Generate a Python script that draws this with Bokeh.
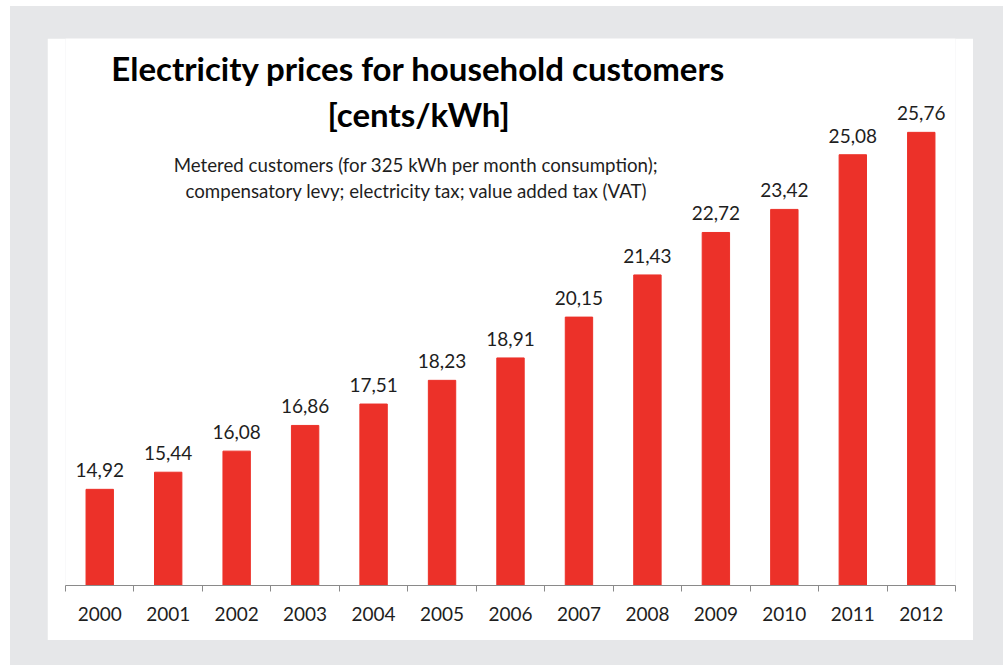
from bokeh.plotting import figure
from bokeh.layouts import column
from bokeh.models import (FactorRange, Range1d, LinearAxis, FixedTicker, ColumnDataSource,
                          LabelSet, Label)
from bokeh.core.properties import value
from bokeh.embed import file_html
from bokeh.resources import INLINE

# ---- data ----
years = ["2000", "2001", "2002", "2003", "2004", "2005", "2006",
         "2007", "2008", "2009", "2010", "2011", "2012"]
prices = [14.92, 15.44, 16.08, 16.86, 17.51, 18.23, 18.91,
          20.15, 21.43, 22.72, 23.42, 25.08, 25.76]
price_labels = [f"{v:.2f}".replace(".", ",") for v in prices]
title_lines = ["Electricity prices for household customers", "[cents/kWh]"]
subtitle_lines = ["Metered customers (for 325 kWh per month consumption);",
                  "compensatory levy; electricity tax; value added tax (VAT)"]

# ---- styles ----
BG = "#e6e7e9"
RED = "#ec3129"
TXT = "#1e1e1e"
AX = "#8a8a8a"
FONT = "Lato"

W, H = 926, 602

p = figure(width=W, height=H, x_range=FactorRange(*years), y_range=Range1d(12, 28.61),
           output_backend="svg", toolbar_location=None,
           x_axis_location=None, y_axis_location=None,
           min_border_left=18, min_border_right=18,
           min_border_top=0, min_border_bottom=55)
p.border_fill_color = "white"
p.background_fill_color = "white"
p.outline_line_color = None
p.outline_line_alpha = 0
p.xgrid.visible = False
p.ygrid.visible = False
p.margin = (32, 30, 25, 37)

src = ColumnDataSource(dict(year=years, price=prices, label=price_labels))
p.vbar(x="year", top="price", bottom=12, width=0.4, source=src,
       fill_color=RED, line_color=RED)

# x axis on the categorical range: tick marks between categories, labels at centers
n = len(years)
xaxis = LinearAxis(ticker=FixedTicker(ticks=[i + 0.5 for i in range(n)],
                                      minor_ticks=list(range(n + 1))),
                   major_label_overrides={i + 0.5: y for i, y in enumerate(years)})
xaxis.axis_line_color = AX
xaxis.axis_line_width = 1
xaxis.major_tick_line_color = None
xaxis.major_tick_out = 0
xaxis.major_tick_in = 0
xaxis.minor_tick_line_color = AX
xaxis.minor_tick_out = 6
xaxis.minor_tick_in = 0
xaxis.major_label_text_font = FONT
xaxis.major_label_text_font_size = "19px"
xaxis.major_label_text_color = TXT
xaxis.major_label_standoff = 15
p.add_layout(xaxis, "below")

labels = LabelSet(x="year", y="price", text="label", source=src,
                  text_align="center", text_baseline="alphabetic", y_offset=12,
                  text_font=value(FONT), text_font_size="19px", text_color=TXT)
p.add_layout(labels)

# titles
p.add_layout(Label(x=5.156, y=27.70, text=title_lines[0], text_align="center",
                   text_baseline="alphabetic", text_font=FONT, text_font_style="bold",
                   text_font_size="33px", text_color="#000000"))
p.add_layout(Label(x=5.16, y=26.33, text=title_lines[1], text_align="center",
                   text_baseline="alphabetic", text_font=FONT, text_font_style="bold",
                   text_font_size="33px", text_color="#000000"))
p.add_layout(Label(x=5.12, y=24.78, text=subtitle_lines[0], text_align="center",
                   text_baseline="alphabetic", text_font=FONT,
                   text_font_size="18.7px", text_color=TXT))
p.add_layout(Label(x=5.13, y=23.99, text=subtitle_lines[1], text_align="center",
                   text_baseline="alphabetic", text_font=FONT,
                   text_font_size="18.7px", text_color=TXT))

layout = column(p, styles={"background-color": BG}, margin=(6, 0, 0, 10))

open("out.html", "w").write(file_html(layout, INLINE))
